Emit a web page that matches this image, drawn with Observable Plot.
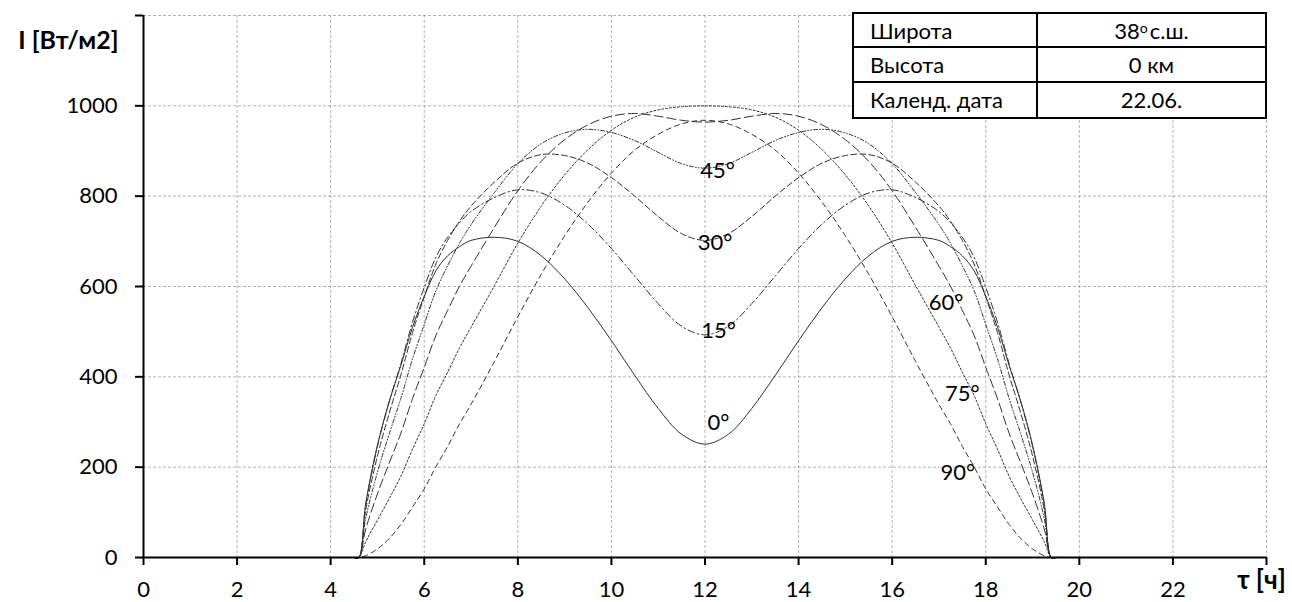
<!DOCTYPE html>
<html>
<head>
<meta charset="utf-8">
<script src="https://cdn.jsdelivr.net/npm/d3@7"></script>
<script src="https://cdn.jsdelivr.net/npm/@observablehq/plot@0.6"></script>
<style>
  body { margin: 0; background: #fff; font-family: Lato, "Open Sans", sans-serif; }
  #chart { position: relative; width: 1292px; height: 602px; }
  #params {
    position: absolute; left: 852px; top: 12px; width: 415px; height: 107px;
    box-sizing: border-box; border: 2px solid #000; background: #fff;
    display: grid; grid-template-columns: 184px 1fr; grid-template-rows: repeat(3, 1fr);
    font-size: 22px; color: #000;
  }
  #params div { display: flex; align-items: center; border-bottom: 2px solid #000; }
  #params div:nth-child(odd) { border-right: 2px solid #000; padding-left: 16px; }
  #params div:nth-child(even) { justify-content: center; }
  #params div:nth-last-child(-n+2) { border-bottom: none; }
  #params sup { font-size: 14px; line-height: 0; position: relative; top: -2px; margin-right: 2px; }
</style>
</head>
<body>
<div id="chart"></div>
<script>
// Time of day, hours
const hours = [4.5, 4.6, 4.75, 5, 5.25, 5.5, 5.75, 6, 6.25, 6.5, 6.75, 7, 7.5, 8, 8.5, 9, 9.5, 10, 10.5, 11, 11.5, 12,
  12.5, 13, 13.5, 14, 14.5, 15, 15.5, 16, 16.5, 17, 17.25, 17.5, 17.75, 18, 18.25, 18.5, 18.75, 19, 19.25, 19.4, 19.5];

// Surface tilt angles, degrees
const angles = [0, 15, 30, 45, 60, 75, 90];

// Direct irradiance on the surface, W/m2, one list per tilt angle
const irr0 = [0, 0, 120, 249, 345, 425, 510, 578, 635, 668, 688, 702, 709, 700, 668, 617, 553, 480, 403, 330, 273, 251,
  273, 330, 403, 480, 553, 617, 668, 700, 709, 702, 688, 668, 635, 578, 510, 425, 345, 249, 120, 0, 0];
const irr15 = [0, 0, 117, 246, 344, 429, 521, 598, 665, 709, 741, 766, 797, 814, 807, 780, 738, 684, 623, 562, 512, 493,
  512, 562, 623, 684, 738, 780, 807, 814, 797, 766, 741, 709, 665, 598, 521, 429, 344, 246, 117, 0, 0];
const irr30 = [0, 0, 106, 225, 319, 404, 498, 577, 650, 702, 744, 778, 831, 873, 892, 890, 873, 841, 800, 755, 717, 702,
  717, 755, 800, 841, 873, 890, 892, 873, 831, 778, 744, 702, 650, 577, 498, 404, 319, 225, 106, 0, 0];
const irr45 = [0, 0, 87, 189, 273, 352, 440, 516, 591, 646, 695, 737, 808, 872, 916, 940, 948, 941, 923, 897, 872, 862,
  872, 897, 923, 941, 948, 940, 916, 872, 808, 737, 695, 646, 591, 516, 440, 352, 273, 189, 87, 0, 0];
const irr60 = [0, 0, 63, 141, 209, 275, 352, 421, 492, 547, 600, 645, 731, 812, 877, 925, 958, 977, 983, 977, 968, 964,
  968, 977, 983, 977, 958, 925, 877, 812, 731, 645, 600, 547, 492, 421, 352, 275, 209, 141, 63, 0, 0];
const irr75 = [0, 0, 35, 83, 130, 180, 240, 296, 359, 410, 463, 510, 602, 696, 778, 847, 903, 946, 975, 991, 998, 1000,
  998, 991, 975, 946, 903, 847, 778, 696, 602, 510, 463, 410, 359, 296, 240, 180, 130, 83, 35, 0, 0];
const irr90 = [0, 0, 4, 19, 42, 73, 112, 152, 201, 246, 295, 339, 434, 533, 627, 712, 787, 851, 902, 937, 960, 968,
  960, 937, 902, 851, 787, 712, 627, 533, 434, 339, 295, 246, 201, 152, 112, 73, 42, 19, 4, 0, 0];

// Hour at which each curve is labelled
const labelHours = [12, 12, 12, 12, 17, 17.5, 17.5];

// Axis ticks
const xTicks = [0, 2, 4, 6, 8, 10, 12, 14, 16, 18, 20, 22, 24];
const yTicks = [0, 200, 400, 600, 800, 1000, 1200];

// Parameter table
const latitude = 38;
const altitudeKm = 0;
const calendarDate = "22.06.";

const series = [irr0, irr15, irr30, irr45, irr60, irr75, irr90];

// Line style and label offset for each curve
const styles = [
  {dash: null,            dx: 13.5, dy: -21.5},
  {dash: "7,3,1.5,3",     dx: 13.5, dy: -4},
  {dash: "6,3",           dx: 10,   dy: 3},
  {dash: "4,2,1,2,1,2",   dx: 12.5, dy: 2.5},
  {dash: "9,4",           dx: 7,    dy: 37},
  {dash: "2,2",           dx: 0,    dy: 22},
  {dash: "5,4",           dx: -4.5, dy: 26.5}
];

const curveMarks = [];
angles.forEach((a, i) => {
  const rows = hours.map((h, k) => ({hour: h, value: series[i][k], angle: a}));
  curveMarks.push(Plot.line(rows, {
    x: "hour", y: "value", curve: "catmull-rom",
    stroke: "#303030", strokeWidth: 1,
    strokeDasharray: styles[i].dash || undefined
  }));
  const at = rows.filter(d => d.hour === labelHours[i]);
  curveMarks.push(Plot.text(at, {
    x: "hour", y: "value", text: d => d.angle + "°",
    dx: styles[i].dx, dy: styles[i].dy, fontSize: 22, fill: "#000"
  }));
});

const gridStyle = {stroke: "#9a9a9a", strokeOpacity: 0.75, strokeWidth: 1, strokeDasharray: "3,2"};

const plot = Plot.plot({
  width: 1292,
  height: 602,
  marginLeft: 143,
  marginRight: 26,
  marginTop: 15,
  marginBottom: 45,
  style: {fontFamily: "Lato, 'Open Sans', sans-serif", fontSize: "22px", color: "#000", background: "#fff"},
  x: {domain: [0, 24], axis: null, label: null},
  y: {domain: [0, 1200], axis: null, label: null},
  marks: [
    Plot.gridX(xTicks.slice(1), gridStyle),
    Plot.gridY(yTicks.slice(1), gridStyle),
    ...curveMarks,
    Plot.ruleY([0], {stroke: "#000", strokeWidth: 2}),
    Plot.ruleX([0], {stroke: "#000", strokeWidth: 2}),
    Plot.axisX({ticks: xTicks, tickSize: 8, tickPadding: 16, stroke: "#000", strokeWidth: 2,
      tickFormat: d => (d === 24 ? "" : String(d)), label: null, fontSize: 22}),
    Plot.axisY({ticks: yTicks, tickSize: 8, tickPadding: 18, stroke: "#000", strokeWidth: 2,
      tickFormat: d => (d === 1200 ? "" : String(d)), label: null, fontSize: 22}),
    Plot.text(["I [Вт/м2]"], {frameAnchor: "top-left", text: d => d, dx: -25, dy: 16,
      textAnchor: "end", fontWeight: "bold", fontSize: 25, fill: "#000"}),
    Plot.text(["τ [ч]"], {frameAnchor: "bottom-right", text: d => d, dx: -5, dy: 31,
      textAnchor: "middle", fontWeight: "bold", fontSize: 26, fill: "#000"})
  ]
});

const chart = document.getElementById("chart");
chart.appendChild(plot);

// Parameter table in the top-right corner
const table = document.createElement("div");
table.id = "params";
const cells = [
  ["Широта", `${latitude}<sup>o</sup>с.ш.`],
  ["Высота", `${altitudeKm} км`],
  ["Календ. дата", calendarDate]
];
cells.forEach(([name, value]) => {
  const n = document.createElement("div");
  n.textContent = name;
  const v = document.createElement("div");
  v.innerHTML = value;
  table.appendChild(n);
  table.appendChild(v);
});
chart.appendChild(table);
</script>
</body>
</html>
